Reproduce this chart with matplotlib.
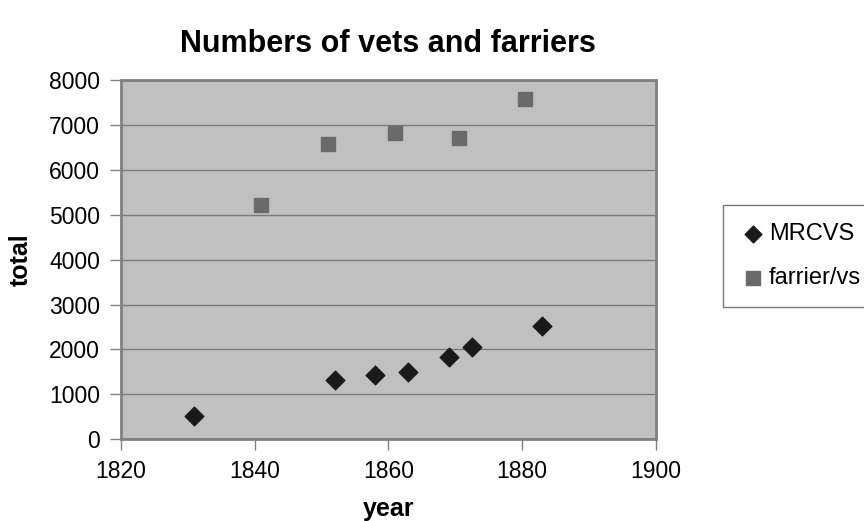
import matplotlib
matplotlib.use('Agg')
import matplotlib.pyplot as plt

# data
mrcvs_year = [1831, 1852, 1858, 1863, 1869, 1872.5, 1883]
mrcvs_total = [510, 1310, 1435, 1495, 1830, 2065, 2530]
farrier_year = [1841, 1851, 1861, 1870.5, 1880.5]
farrier_total = [5210, 6580, 6825, 6715, 7585]
x_ticks = [1820, 1840, 1860, 1880, 1900]
y_ticks = [0, 1000, 2000, 3000, 4000, 5000, 6000, 7000, 8000]

plt.rcParams['font.family'] = ['Liberation Sans', 'DejaVu Sans']

fig = plt.figure(figsize=(8.64, 5.21), dpi=100)
ax = fig.add_axes([0.140, 0.157, 0.619, 0.689])
ax.set_facecolor('#c0c0c0')

ax.scatter(mrcvs_year, mrcvs_total, marker='D', s=90, color='#1a1a1a',
           label='MRCVS', zorder=3)
ax.scatter(farrier_year, farrier_total, marker='s', s=115, color='#6a6a6a',
           label='farrier/vs', zorder=3)

ax.set_xlim(1820, 1900)
ax.set_ylim(0, 8000)
ax.set_xticks(x_ticks)
ax.set_yticks(y_ticks)
ax.tick_params(labelsize=16.5, length=8, width=1, color='#808080', pad=7)
ax.yaxis.grid(True, color='#7a7a7a', linewidth=1)
ax.set_axisbelow(True)
for sp in ax.spines.values():
    sp.set_color('#808080')
    sp.set_linewidth(2)

ax.set_xlabel('year', fontsize=18, fontweight='bold', labelpad=10)
ax.set_ylabel('total', fontsize=18, fontweight='bold', labelpad=12)
ax.set_title('Numbers of vets and farriers', fontsize=22, fontweight='bold', pad=20)

leg = fig.legend(loc='upper left', bbox_to_anchor=(723 / 864, 1 - 205 / 521),
                 fontsize=17, frameon=True, fancybox=False, edgecolor='#555555',
                 handletextpad=0.2, borderpad=0.75, labelspacing=0.95,
                 handlelength=1.0, borderaxespad=0, markerscale=0.9)
leg.get_frame().set_linewidth(1)

fig.savefig('out.png', dpi=100)
